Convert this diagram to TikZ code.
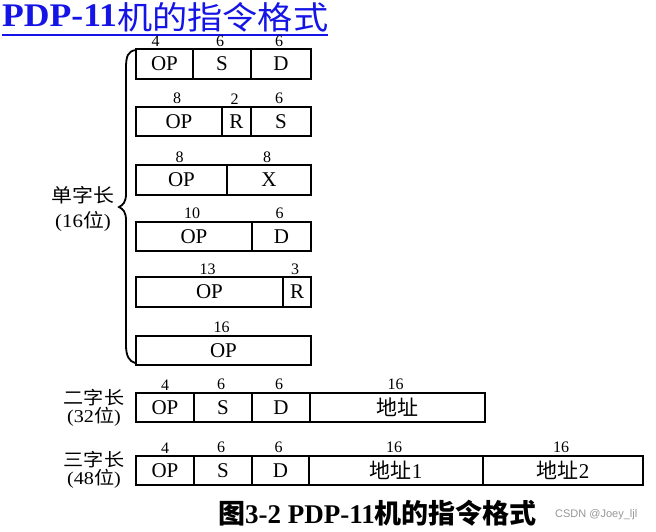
\documentclass[tikz,border=0pt]{standalone}
\usepackage{fontspec}
\setmainfont{Liberation Serif}
\setsansfont{Liberation Sans}
\newfontfamily\cjk{Noto Sans CJK SC}
\usetikzlibrary{positioning}
\definecolor{titleblue}{RGB}{20,20,230}
\definecolor{markgray}{RGB}{150,150,150}
\newcommand{\fieldfont}{\fontsize{21}{23}\selectfont}
\newcommand{\bitsfont}{\fontsize{16}{17}\selectfont}

\begin{document}
\begin{tikzpicture}[
  x=1pt, y=-1pt,
  field/.style={rectangle, draw, line width=1.6pt, inner sep=0pt, outer sep=0pt, minimum height=29.5pt, font=\fieldfont},
  bits/.style={inner sep=0pt, font=\bitsfont, xshift=-2pt},
  every label/.style={bits},
  label distance=2.5pt,
  sidelbl/.style={inner sep=0pt, align=center},
  bracket/.style={line width=1.8pt}
]
\useasboundingbox (0,0) rectangle (656,531);

% Title
\node[anchor=base west, inner sep=0pt, text=titleblue, font=\fontsize{33}{36}\selectfont] (title) at (2,26) {\scalebox{1.08}[1]{\textbf{PDP-11}}\raisebox{-3.5pt}{\scalebox{1.1}[1]{\fontsize{32}{36}\selectfont\cjk 机的指令格式}}};
\draw[titleblue, line width=2pt] ([yshift=-8.5pt]title.base west) -- ([yshift=-8.5pt]title.base east);

% Single word formats (16 bit)
\node[field, minimum width=57pt, label={[xshift=-7pt]above:4}] (r1op) at (164.5,64) {OP};
\node[field, minimum width=58pt, right=0pt of r1op, label=above:6] (r1s) {S};
\node[field, minimum width=60pt, right=0pt of r1s, label=above:6] (r1d) {D};

\node[field, minimum width=86pt, label=above:8] (r2op) at (179,121.5) {OP};
\node[field, minimum width=29pt, right=0pt of r2op, label=above:2] (r2r) {R};
\node[field, minimum width=60pt, right=0pt of r2r, label=above:6] (r2s) {S};

\node[field, minimum width=91pt, label=above:8] (r3op) at (181.5,180) {OP};
\node[field, minimum width=84pt, right=0pt of r3op, label=above:8] (r3x) {X};

\node[field, minimum width=116pt, label=above:10] (r4op) at (194,236.5) {OP};
\node[field, minimum width=59pt, right=0pt of r4op, label=above:6] (r4d) {D};

\node[field, minimum width=147pt, label=above:13] (r5op) at (209.5,292) {OP};
\node[field, minimum width=28pt, right=0pt of r5op, label=above:3] (r5r) {R};

\node[field, minimum width=175pt, label=above:16] (r6op) at (223.5,350.5) {OP};

% Brace
\draw[bracket] (136,50) .. controls (128,51) and (126,56) .. (126,68) -- (126,194)
  .. controls (126,202) and (123,205) .. (119,207)
  .. controls (123,209) and (126,212) .. (126,220) -- (126,345)
  .. controls (126,356) and (129,361) .. (135,363);
\node[sidelbl, font=\fontsize{19}{24.5}\selectfont] (single) at (83,209)
  {\scalebox{1.1}[1]{\cjk 单字长}\\\scalebox{1.1}[1]{(16{\cjk 位})}};

% Double word format (32 bit)
\node[field, minimum width=58pt, label={[xshift=2pt]above:4}] (r7op) at (165,407.5) {OP};
\node[field, minimum width=58pt, right=0pt of r7op, label=above:6] (r7s) {S};
\node[field, minimum width=58pt, right=0pt of r7s, label=above:6] (r7d) {D};
\node[field, minimum width=175pt, right=0pt of r7d, label=above:16] (r7a) {\cjk 地址};
\node[sidelbl, font=\fontsize{18}{16.5}\selectfont] (double) at (94,408)
  {\scalebox{1.12}[1]{\cjk 二字长}\\\scalebox{1.12}[1]{(32{\cjk 位})}};

% Triple word format (48 bit)
\node[field, minimum width=58pt, label={[xshift=2pt]above:4}] (r8op) at (165,470.5) {OP};
\node[field, minimum width=58pt, right=0pt of r8op, label=above:6] (r8s) {S};
\node[field, minimum width=57pt, right=0pt of r8s, label=above:6] (r8d) {D};
\node[field, minimum width=174pt, right=0pt of r8d, label=above:16] (r8a) {{\cjk 地址}1};
\node[field, minimum width=160pt, right=0pt of r8a, label=above:16] (r8b) {{\cjk 地址}2};
\node[sidelbl, font=\fontsize{18}{16.5}\selectfont] (triple) at (94,470)
  {\scalebox{1.12}[1]{\cjk 三字长}\\\scalebox{1.12}[1]{(48{\cjk 位})}};

% Caption
\node[anchor=base west, inner sep=0pt, font=\bfseries\fontsize{27}{30}\selectfont] (caption) at (218,523) {{\cjk 图}3-2 PDP-11{\cjk 机的指令格式}};
\node[anchor=base west, inner sep=0pt, text=markgray, font=\sffamily\fontsize{11}{12}\selectfont] (mark) at (555,517) {CSDN @Joey\_ljl};

\end{tikzpicture}
\end{document}
